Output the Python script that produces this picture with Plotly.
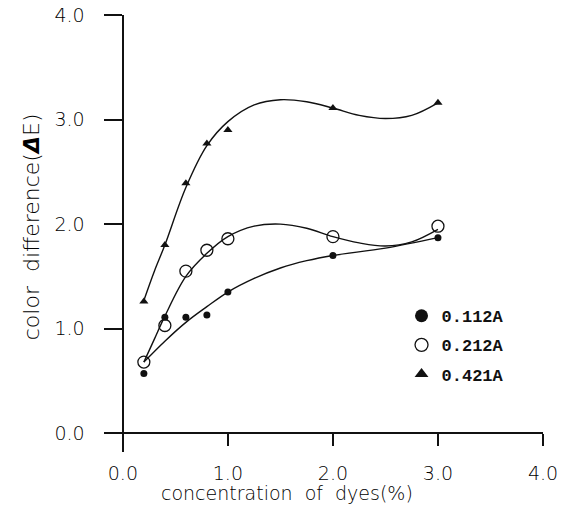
import plotly.graph_objects as go

# measured data points
conc = [0.2, 0.4, 0.6, 0.8, 1.0, 2.0, 3.0]
de_0112 = [0.57, 1.11, 1.11, 1.13, 1.35, 1.70, 1.87]
de_0212 = [0.68, 1.03, 1.55, 1.75, 1.86, 1.88, 1.98]
de_0421 = [1.26, 1.80, 2.39, 2.77, 2.90, 3.11, 3.16]

# fitted curves
fit_x_0112 = [0.2, 0.4, 0.6, 0.8, 1.0, 1.25, 1.5, 1.75, 2.0, 2.5, 3.0]
fit_y_0112 = [0.68, 0.88, 1.06, 1.21, 1.35, 1.48, 1.58, 1.65, 1.70, 1.77, 1.87]
fit_x_0212 = [0.2, 0.3, 0.4, 0.6, 0.8, 1.0, 1.25, 1.5, 1.75, 2.0, 2.25, 2.5, 2.75, 3.0]
fit_y_0212 = [0.68, 0.90, 1.12, 1.50, 1.72, 1.88, 1.98, 2.00, 1.96, 1.88, 1.82, 1.79, 1.83, 1.95]
fit_x_0421 = [0.2, 0.3, 0.4, 0.6, 0.8, 1.0, 1.25, 1.5, 1.75, 2.0, 2.25, 2.5, 2.75, 3.0]
fit_y_0421 = [1.27, 1.55, 1.80, 2.35, 2.75, 2.98, 3.14, 3.19, 3.17, 3.11, 3.04, 3.01, 3.04, 3.16]

ticks = [0, 1, 2, 3, 4]
tick_labels = ["0.0", "1.0", "2.0", "3.0", "4.0"]
legend_names = ["0.112A", "0.212A", "0.421A"]

INK = "#111111"
fig = go.Figure()

for fx, fy in [(fit_x_0112, fit_y_0112), (fit_x_0212, fit_y_0212), (fit_x_0421, fit_y_0421)]:
    fig.add_trace(go.Scatter(x=fx, y=fy, mode="lines", line=dict(color=INK, width=1.4, shape="spline"),
                             showlegend=False, hoverinfo="skip"))

fig.add_trace(go.Scatter(x=conc, y=de_0112, mode="markers", showlegend=False,
                         marker=dict(symbol="circle", size=7, color=INK)))
fig.add_trace(go.Scatter(x=conc, y=de_0212, mode="markers", showlegend=False,
                         marker=dict(symbol="circle-open", size=12, color=INK, line=dict(width=1.3))))
fig.add_trace(go.Scatter(x=conc, y=de_0421, mode="markers", showlegend=False,
                         marker=dict(symbol="triangle-up", size=8, color=INK)))

# legend-only entries
leg_markers = [dict(symbol="circle", size=13, color=INK),
               dict(symbol="circle-open", size=13, color=INK, line=dict(width=1.3)),
               dict(symbol="triangle-up", size=12, color=INK)]
for i, (nm, mk) in enumerate(zip(legend_names, leg_markers)):
    fig.add_trace(go.Scatter(x=[None], y=[None], mode="markers", name=nm, marker=mk,
                             legendgroup=f"g{i}"))

tickfont = dict(family="DejaVu Sans", size=19, color="#000000", weight=200)
# y labels sit further from their ticks: pad them on the right
y_tick_text = [t + "\u2002\u00a0" for t in tick_labels]

fig.update_layout(
    width=561, height=515,
    margin=dict(l=105, r=18, t=15, b=63, autoexpand=False),
    paper_bgcolor="white", plot_bgcolor="white",
    xaxis=dict(range=[-0.17, 4.0], anchor="free", position=0.18 / 4.18, automargin=False,
               tickvals=ticks, ticktext=tick_labels, ticks="outside", ticklen=12, tickwidth=1.5,
               tickcolor=INK, showline=True, linecolor=INK, linewidth=1.6, showgrid=False,
               zeroline=False, tickfont=tickfont, ticklabelstandoff=11, ticklabeloverflow="allow"),
    yaxis=dict(range=[-0.18, 4.0], anchor="free", position=0.17 / 4.17, automargin=False,
               tickvals=ticks, ticktext=y_tick_text, ticks="outside", ticklen=18, tickwidth=1.5,
               tickcolor=INK, showline=True, linecolor=INK, linewidth=1.6, showgrid=False,
               zeroline=False, tickfont=tickfont, ticklabeloverflow="allow"),
    legend=dict(x=0.677, y=0.352, xanchor="left", yanchor="top", bgcolor="rgba(0,0,0,0)",
                font=dict(family="Liberation Mono", size=17, color=INK, weight="bold"),
                traceorder="grouped", tracegroupgap=4),
    annotations=[
        dict(text="concentration\u00a0\u00a0of\u00a0\u00a0dyes(%)", xref="paper", yref="paper",
             x=0.4155, y=-0.0938, xanchor="center", yanchor="middle", showarrow=False,
             font=dict(family="DejaVu Sans", size=19, color="#000000", weight=200)),
        dict(text="color\u00a0\u00a0difference(<b><i>\u0394</i></b>E)", xref="paper", yref="paper",
             x=-0.166, y=0.515, xanchor="center", yanchor="middle", showarrow=False, textangle=-90,
             font=dict(family="DejaVu Sans", size=22, color="#000000", weight=200)),
    ],
)

# remove the default page margin so the figure fills the window exactly
fig.write_html("out.html", config={"displayModeBar": False},
               post_script="document.body.style.margin='0';document.body.style.overflow='hidden';")
